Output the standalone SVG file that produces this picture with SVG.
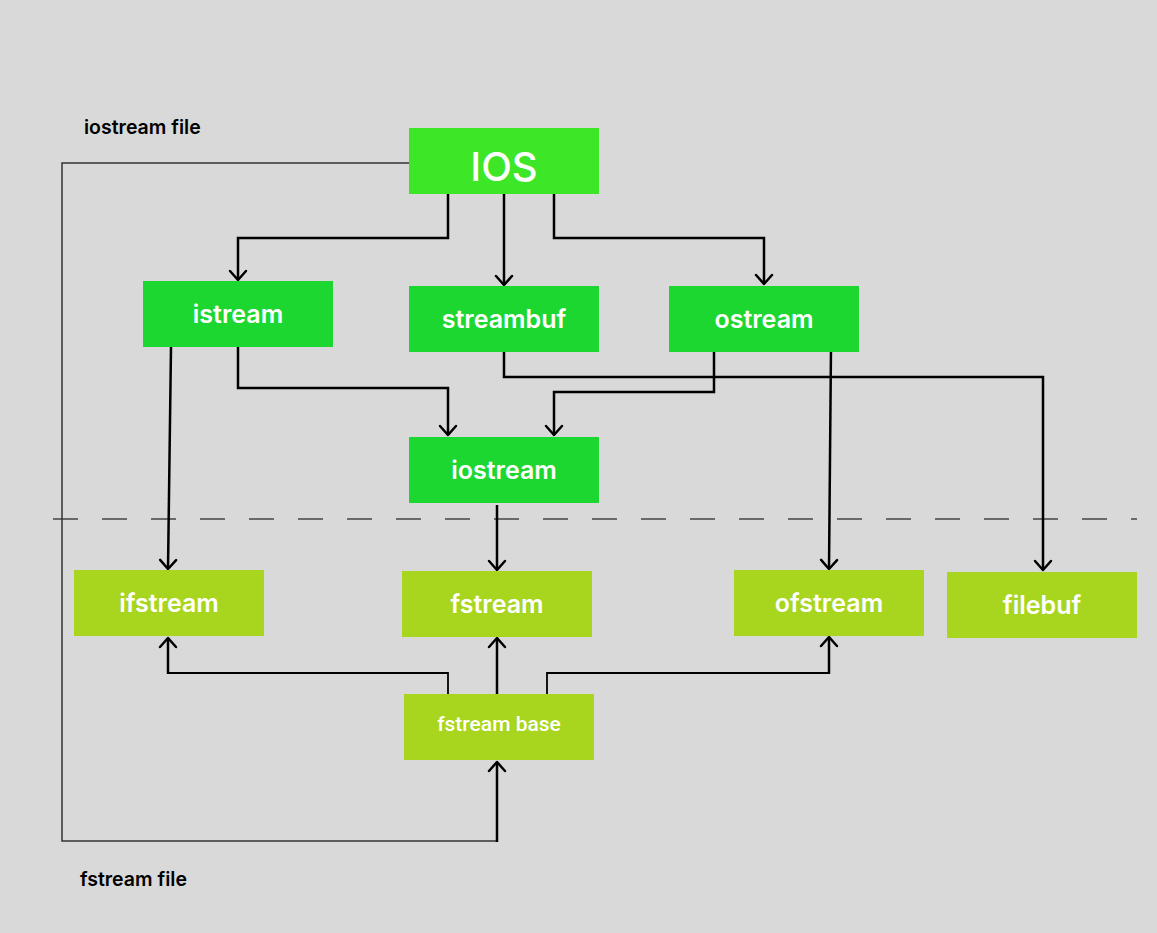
<svg xmlns="http://www.w3.org/2000/svg" width="1157" height="933" viewBox="0 0 1157 933">
<defs>
<marker id="ah" markerUnits="userSpaceOnUse" markerWidth="24" markerHeight="24" viewBox="-12 -12 24 24" refX="0" refY="0" orient="auto">
<path d="M-9,-8 L0,0 L-9,8" fill="none" stroke="#000" stroke-width="2.5" stroke-linecap="round" stroke-linejoin="round"/>
</marker>
</defs>
<style>
.n1{fill:#1dd731}
.n0{fill:#3ee628}
.n2{fill:#a8d61e}
.t{font-family:Inter,"Noto Sans",sans-serif;font-weight:600;fill:#fff;text-anchor:middle;font-size:25px}
.lbl{font-family:Inter,"Noto Sans",sans-serif;font-weight:600;fill:#000;font-size:19.5px}
.c{fill:none;stroke:#000;stroke-width:2.5;stroke-linejoin:miter}
.cs{fill:none;stroke:#000;stroke-width:1.8}
.thin{fill:none;stroke:#333;stroke-width:1.5}
</style>
<rect width="1157" height="933" fill="#d9d9d9"/>
<text class="lbl" x="84" y="134">iostream file</text>
<text class="lbl" x="80" y="886">fstream file</text>
<g id="connectors">
<line x1="53" y1="519" x2="1137" y2="519" stroke="#444" stroke-width="1.5" stroke-dasharray="25 24"/>
<path class="thin" d="M409,163 H62 V841 H497"/>
<path class="c" d="M497,842 V762" marker-end="url(#ah)"/>
<path class="c" d="M448,194 V238 H238 V280" marker-end="url(#ah)"/>
<path class="c" d="M504,194 V285" marker-end="url(#ah)"/>
<path class="c" d="M554,194 V238 H764 V284" marker-end="url(#ah)"/>
<path class="c" d="M171,347 L168,569" marker-end="url(#ah)"/>
<path class="c" d="M238,344 V388 H448 V435" marker-end="url(#ah)"/>
<path class="c" d="M714,346 V392 H554 V435" marker-end="url(#ah)"/>
<path class="c" d="M504,352 V377 H1043 L1043,570" marker-end="url(#ah)"/>
<path class="c" d="M831,347 L829,569" marker-end="url(#ah)"/>
<path class="c" d="M497,505 V570" marker-end="url(#ah)"/>
<path class="cs" d="M448,694 V673 H168"/>
<path class="c" d="M168,674 V638" marker-end="url(#ah)"/>
<path class="c" d="M497,694 V638" marker-end="url(#ah)"/>
<path class="cs" d="M547,696 V673 H829"/>
<path class="c" d="M829,674 V637" marker-end="url(#ah)"/>
</g>
<g id="ios"><rect class="n0" x="409" y="128" width="190" height="66"/><text class="t" x="504" y="181" style="font-size:40px;font-weight:500">IOS</text></g>
<g id="istream"><rect class="n1" x="143" y="281" width="190" height="66"/><text class="t" x="238" y="323">istream</text></g>
<g id="streambuf"><rect class="n1" x="409" y="286" width="190" height="66"/><text class="t" x="504" y="328">streambuf</text></g>
<g id="ostream"><rect class="n1" x="669" y="286" width="190" height="66"/><text class="t" x="764" y="328">ostream</text></g>
<g id="iostream"><rect class="n1" x="409" y="437" width="190" height="66"/><text class="t" x="504" y="479">iostream</text></g>
<g id="ifstream"><rect class="n2" x="74" y="570" width="190" height="66"/><text class="t" x="169" y="612">ifstream</text></g>
<g id="fstream"><rect class="n2" x="402" y="571" width="190" height="66"/><text class="t" x="497" y="613">fstream</text></g>
<g id="ofstream"><rect class="n2" x="734" y="570" width="190" height="66"/><text class="t" x="829" y="612">ofstream</text></g>
<g id="filebuf"><rect class="n2" x="947" y="572" width="190" height="66"/><text class="t" x="1042" y="614">filebuf</text></g>
<g id="fstreambase"><rect class="n2" x="404" y="694" width="190" height="66"/><text class="t" x="499" y="731" style="font-family:Roboto,'Noto Sans',sans-serif;font-size:21px;font-weight:500">fstream base</text></g>
</svg>
